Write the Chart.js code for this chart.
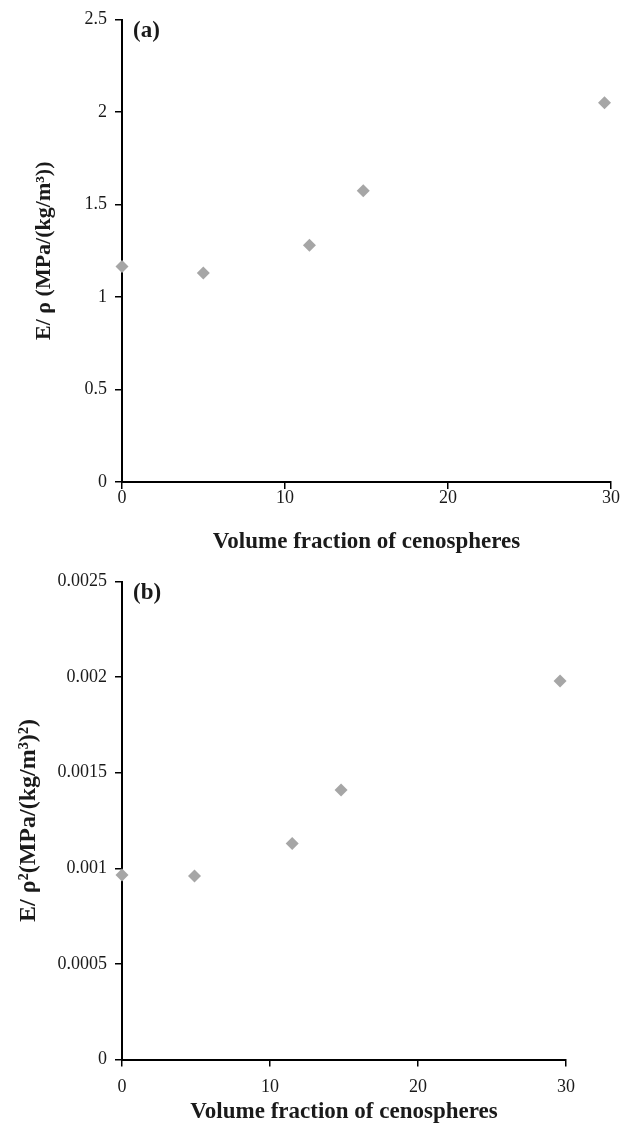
<!DOCTYPE html>
<html lang="en">
<head>
<meta charset="utf-8">
<script src="https://cdn.jsdelivr.net/npm/chart.js"></script>
<style>
  html, body { margin: 0; padding: 0; background: #fff; width: 630px; height: 1123px; overflow: hidden; }
  .box { position: absolute; left: 0; width: 630px; }
  #boxA { top: 0; height: 560px; }
  #boxB { top: 560px; height: 575px; }
</style>
</head>
<body>
<div class="box" id="boxA"><canvas id="chartA"></canvas></div>
<div class="box" id="boxB"><canvas id="chartB"></canvas></div>
<script>
// shared x axis
const xTicks = [0, 10, 20, 30];
const xTitle = 'Volume fraction of cenospheres';

// panel (a)
const fracA = [0, 4.99, 11.5, 14.8, 29.6];
const modA = [1.165, 1.13, 1.28, 1.575, 2.05];
const yTicksA = [0, 0.5, 1, 1.5, 2, 2.5];
const yLabelsA = ['0', '0.5', '1', '1.5', '2', '2.5'];
const yTitleA = 'E/ ρ (MPa/(kg/m³))';

// panel (b)
const fracB = [0, 4.9, 11.5, 14.8, 29.6];
const modB = [0.000965, 0.00096, 0.00113, 0.00141, 0.00198];
const yTicksB = [0, 0.0005, 0.001, 0.0015, 0.002, 0.0025];
const yLabelsB = ['0', '0.0005', '0.001', '0.0015', '0.002', '0.0025'];
const yTitleB = 'E/ ρ²(MPa/(kg/m³)²)';

Chart.defaults.font.family = '"Liberation Serif", "Times New Roman", serif';
Chart.defaults.color = '#1a1a1a';

// "(a)" / "(b)" tag inside plot area
const panelTag = {
  id: 'panelTag',
  afterDraw(chart, args, opts) {
    const ctx = chart.ctx;
    ctx.save();
    ctx.font = 'bold 23px "Liberation Serif", serif';
    ctx.fillStyle = '#1a1a1a';
    ctx.textBaseline = 'alphabetic';
    ctx.fillText(opts.text, chart.chartArea.left + 11, chart.chartArea.top + 17);
    ctx.restore();
  }
};

function makeChart(id, xs, ys, yTicks, yLabels, yTitle, tag, o) {
  const pts = xs.map((x, i) => ({ x: x, y: ys[i] }));
  return new Chart(document.getElementById(id), {
    type: 'scatter',
    data: {
      datasets: [{
        data: pts,
        pointStyle: 'rectRot',
        pointRadius: 6.5,
        pointHoverRadius: 6.5,
        backgroundColor: '#a6a6a6',
        borderColor: '#a6a6a6',
        borderWidth: 0,
        clip: false
      }]
    },
    options: {
      responsive: true,
      maintainAspectRatio: false,
      animation: false,
      layout: { padding: { left: 0, right: o.right, top: o.top, bottom: 0 } },
      plugins: {
        legend: { display: false },
        tooltip: { enabled: false },
        panelTag: { text: tag }
      },
      scales: {
        x: {
          type: 'linear',
          min: 0, max: 30,
          afterFit: s => { s.height = o.xh; },
          afterBuildTicks: s => { s.ticks = xTicks.map(v => ({ value: v })); },
          ticks: { font: { size: 18, lineHeight: 1 }, padding: o.xpad, maxRotation: 0, color: '#1a1a1a' },
          grid: { drawOnChartArea: false, tickLength: 7, color: '#000', lineWidth: 1.5 },
          border: { color: '#000', width: 2 },
          title: {
            display: true, text: xTitle,
            font: { size: 23, weight: 'bold' }, color: '#1a1a1a',
            padding: { top: 0, bottom: o.xtp }
          }
        },
        y: {
          type: 'linear',
          min: yTicks[0], max: yTicks[yTicks.length - 1],
          afterFit: s => { s.width = 122; },
          afterBuildTicks: s => { s.ticks = yTicks.map(v => ({ value: v })); },
          ticks: {
            font: { size: 18 }, padding: 8, color: '#1a1a1a',
            callback: (v) => yLabels[yTicks.indexOf(v)]
          },
          grid: { drawOnChartArea: false, tickLength: 7, color: '#000', lineWidth: 1.5 },
          border: { color: '#000', width: 2 },
          title: {
            display: true, text: yTitle,
            font: { size: o.yfs, weight: 'bold' }, color: '#1a1a1a',
            padding: { top: o.ytp, bottom: 0 }
          }
        }
      }
    },
    plugins: [panelTag]
  });
}

makeChart('chartA', fracA, modA, yTicksA, yLabelsA, yTitleA, '(a)',
  { right: 19, top: 19.5, xh: 78, xpad: 0.5, xtp: 4, yfs: 22, ytp: 31 });
makeChart('chartB', fracB, modB, yTicksB, yLabelsB, yTitleB, '(b)',
  { right: 64, top: 21.5, xh: 75.5, xpad: 12, xtp: 9, yfs: 24, ytp: 14 });
</script>
</body>
</html>
